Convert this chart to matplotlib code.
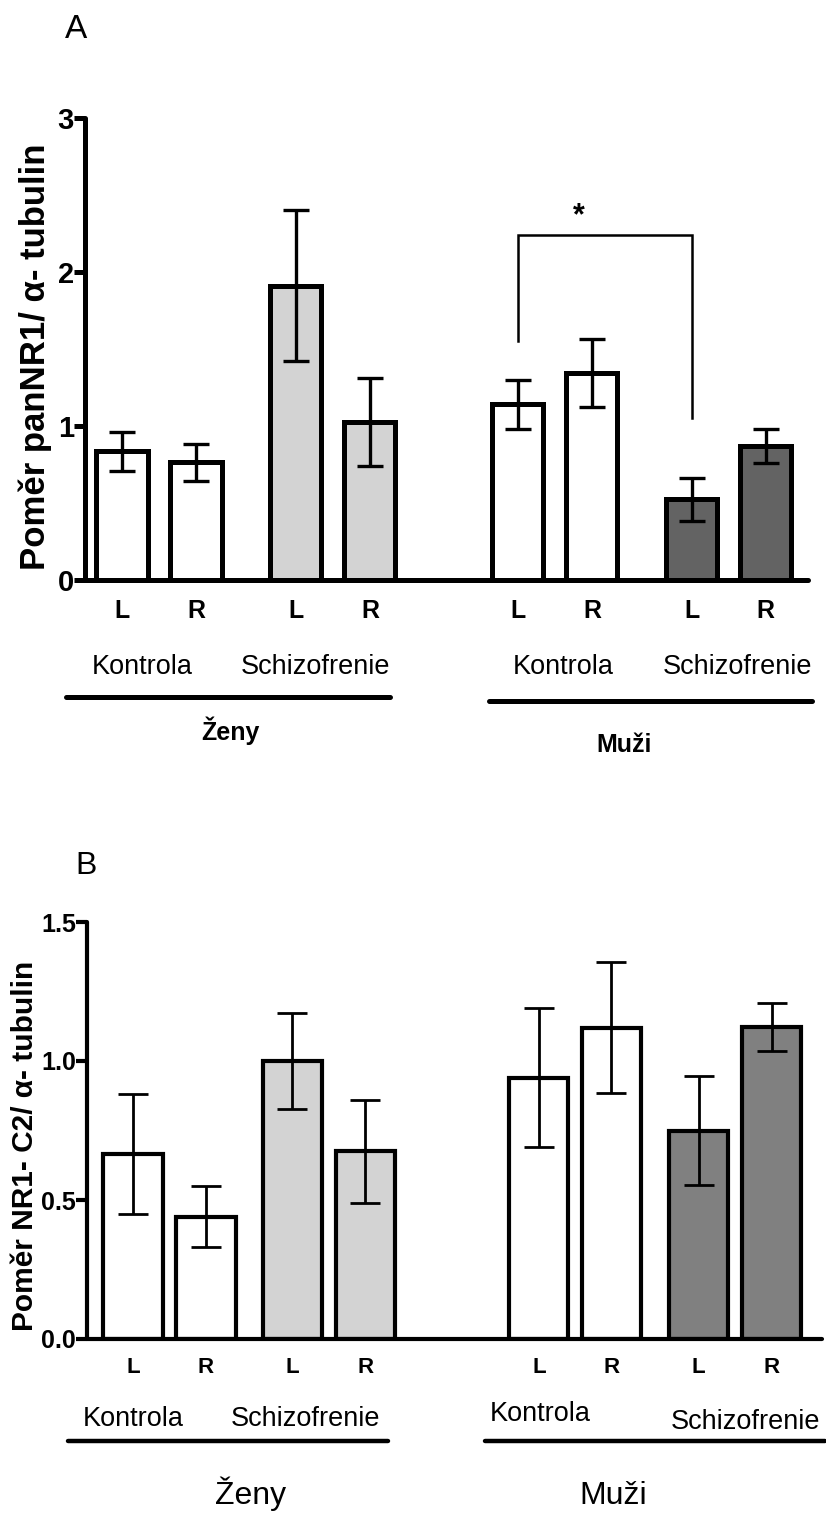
import matplotlib
matplotlib.use('Agg')
import matplotlib.pyplot as plt
from matplotlib.lines import Line2D

plt.rcParams['font.family'] = ['Liberation Sans', 'DejaVu Sans']

# Data
side_labels = ['L', 'R', 'L', 'R', 'L', 'R', 'L', 'R']
groups = ['Kontrola', 'Schizofrenie', 'Kontrola', 'Schizofrenie']
sexes = ['Ženy', 'Muži']

a_means = [0.835, 0.765, 1.91, 1.025, 1.14, 1.345, 0.525, 0.87]
a_sem = [0.125, 0.12, 0.49, 0.285, 0.16, 0.22, 0.14, 0.11]
a_ticks = [0, 1, 2, 3]
a_ylabel = 'Poměr panNR1/ α- tubulin'

b_means = [0.665, 0.44, 1.0, 0.675, 0.94, 1.12, 0.75, 1.122]
b_sem = [0.215, 0.11, 0.173, 0.185, 0.25, 0.235, 0.195, 0.085]
b_ticks = [0.0, 0.5, 1.0, 1.5]
b_ylabel = 'Poměr NR1- C2/ α- tubulin'

W, H = 826, 1517
fig = plt.figure(figsize=(W / 100, H / 100), dpi=100)


def fx(x):
    return x / W


def fy(y):
    return 1 - y / H


def hline(x0, x1, y, lw):
    fig.add_artist(Line2D([fx(x0), fx(x1)], [fy(y), fy(y)], transform=fig.transFigure,
                          color='black', lw=lw, solid_capstyle='round'))


def panel(rect, pos, means, sem, colors, width, ylim, ticks, ticklabels,
          edge_lw, err_lw, cap, spine_lw, tick_fs, lr_fs, lr_pad, xlim):
    ax = fig.add_axes(rect)
    ax.bar(pos, means, width=width, color=colors, edgecolor='black',
           linewidth=edge_lw, zorder=2)
    ax.errorbar(pos, means, yerr=sem, fmt='none', ecolor='black',
                elinewidth=err_lw, capsize=cap, capthick=err_lw, zorder=3)
    ax.set_xlim(*xlim)
    ax.set_ylim(*ylim)
    for s in ['top', 'right']:
        ax.spines[s].set_visible(False)
    for s in ['left', 'bottom']:
        ax.spines[s].set_linewidth(spine_lw)
        ax.spines[s].set_capstyle('round')
    ax.spines['bottom'].set_zorder(4)
    ax.set_yticks(ticks)
    ax.set_yticklabels(ticklabels, fontsize=tick_fs, fontweight='bold')
    ax.tick_params(axis='y', length=8, width=spine_lw, pad=0)
    ax.set_xticks(pos)
    ax.set_xticklabels(side_labels, fontsize=lr_fs, fontweight='bold')
    ax.tick_params(axis='x', length=0, pad=lr_pad)
    return ax


# Panel A
a_unit, a_x0 = 74.0, 122.0
a_pos = [0, 1, 2.35, 3.35, 5.35, 6.35, 7.7, 8.7]
a_colors = ['white', 'white', '#d3d3d3', '#d3d3d3', 'white', 'white', '#636363', '#636363']
axA = panel([fx(85), fy(580), fx(808 - 85), (580 - 118) / H], a_pos, a_means, a_sem,
            a_colors, 0.69, (0, 3), a_ticks, [str(t) for t in a_ticks],
            3.6, 2.4, 9.5, 3.6, 21, 18, 14,
            ((85 - a_x0) / a_unit, (808 - a_x0) / a_unit))

# significance bracket
bx = [a_pos[4], a_pos[4], a_pos[6], a_pos[6]]
by = [1.55, 2.24, 2.24, 1.05]
axA.plot(bx, by, color='black', lw=1.8, solid_joinstyle='miter', clip_on=False)
axA.text(6.17, 2.36, '*', ha='center', va='center', fontsize=22, fontweight='bold')

fig.text(fx(76), fy(29), 'A', ha='center', va='center', fontsize=24)
fig.text(fx(35), fy(357), a_ylabel, rotation=90, ha='center', va='center',
         fontsize=25, fontweight='bold')

for x, t in zip([142, 315, 563, 737], groups):
    fig.text(fx(x), fy(667), t, ha='center', va='center', fontsize=19.5)
hline(66, 390, 697, 3.6)
hline(489, 812, 701, 3.6)
fig.text(fx(230), fy(731), sexes[0], ha='center', va='center', fontsize=18, fontweight='bold')
fig.text(fx(624), fy(745), sexes[1], ha='center', va='center', fontsize=18, fontweight='bold')

# Panel B
b_unit, b_x0 = 73.0, 133.0
b_pos = [0, 1, 2.18, 3.18, 5.56, 6.55, 7.75, 8.75]
b_colors = ['white', 'white', '#d3d3d3', '#d3d3d3', 'white', 'white', '#808080', '#808080']
axB = panel([fx(87), fy(1339), fx(822 - 87), (1339 - 922) / H], b_pos, b_means, b_sem,
            b_colors, 0.81, (0, 1.5), b_ticks, ['%.1f' % t for t in b_ticks],
            3.0, 2.0, 10.5, 3.0, 18, 16, 13,
            ((87 - b_x0) / b_unit, (822 - b_x0) / b_unit))

fig.text(fx(86), fy(866), 'B', ha='center', va='center', fontsize=23)
fig.text(fx(25), fy(1146), b_ylabel, rotation=90, ha='center', va='center',
         fontsize=21.5, fontweight='bold')

for x, y, t in zip([133, 306, 540, 745], [1419, 1419, 1414, 1422], groups):
    fig.text(fx(x), fy(y), t, ha='center', va='center', fontsize=19.5)
hline(68, 388, 1441, 3.2)
hline(485, 825, 1441, 3.2)
fig.text(fx(251), fy(1494), sexes[0], ha='center', va='center', fontsize=23)
fig.text(fx(613), fy(1496), sexes[1], ha='center', va='center', fontsize=23)

fig.savefig('out.png', dpi=100)
